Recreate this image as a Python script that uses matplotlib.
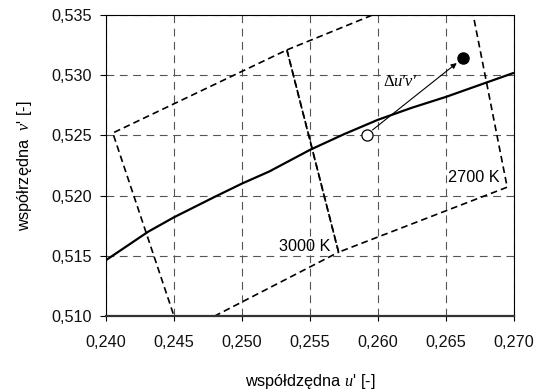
import matplotlib
matplotlib.use("Agg")
import matplotlib.pyplot as plt

plt.rcParams['font.family'] = ['Liberation Sans', 'DejaVu Sans']
plt.rcParams['mathtext.fontset'] = 'custom'
plt.rcParams['mathtext.it'] = 'Liberation Serif:italic'
plt.rcParams['mathtext.rm'] = 'Liberation Serif'

# Planckian locus (u', v')
locus_u = [0.2400, 0.2410, 0.2431, 0.2450, 0.2480, 0.2500, 0.2520, 0.2550, 0.2575, 0.2600, 0.2625, 0.2650, 0.2680, 0.2700]
locus_v = [0.51464, 0.5154, 0.5170, 0.5182, 0.5199, 0.5210, 0.5220, 0.5238, 0.5251, 0.5263, 0.5273, 0.5282, 0.5294, 0.5302]

# 3000 K quadrangle corners (closed)
q3000_u = [0.24544, 0.2405, 0.2533, 0.2571, 0.24544]
q3000_v = [0.50851, 0.5252, 0.5321, 0.5153, 0.50851]
# 2700 K quadrangle corners (closed)
q2700_u = [0.2533, 0.26645, 0.2695, 0.2571, 0.2533]
q2700_v = [0.5321, 0.53815, 0.5207, 0.5153, 0.5321]

# points
ref_point = (0.25916, 0.52506)
meas_point = (0.26627, 0.53144)

xticks = [0.240, 0.245, 0.250, 0.255, 0.260, 0.265, 0.270]
yticks = [0.510, 0.515, 0.520, 0.525, 0.530, 0.535]
xticklabels = ["0,240", "0,245", "0,250", "0,255", "0,260", "0,265", "0,270"]
yticklabels = ["0,510", "0,515", "0,520", "0,525", "0,530", "0,535"]

FS = 11.7

fig = plt.figure(figsize=(5.42, 3.91), dpi=100)
ax = fig.add_axes([106/542, 1-316/391, 408/542, 301/391])

ax.set_xlim(0.240, 0.270)
ax.set_ylim(0.510, 0.535)
ax.set_xticks(xticks)
ax.set_yticks(yticks)
ax.set_xticklabels(xticklabels, fontsize=FS, color='#111111')
ax.set_yticklabels(yticklabels, fontsize=FS, color='#111111')

ax.grid(True, color='#555555', linewidth=0.8, linestyle=(0, (7, 5)))
ax.set_axisbelow(True)

ax.tick_params(axis='y', direction='out', length=4.3, width=0.8, pad=6)
ax.tick_params(axis='x', direction='out', length=3.6, width=0.8, pad=10)

for s in ['left', 'top', 'right']:
    ax.spines[s].set_linewidth(0.8)
    ax.spines[s].set_color('black')
ax.spines['bottom'].set_linewidth(1.6)
ax.spines['bottom'].set_color('#333333')

ax.plot(q3000_u, q3000_v, color='black', lw=1.2, linestyle=(0, (4, 2.4)))
ax.plot(q2700_u, q2700_v, color='black', lw=1.2, linestyle=(0, (4, 2.4)))
ax.plot(locus_u, locus_v, color='black', lw=1.6, solid_capstyle='butt')

ax.annotate('', xy=meas_point, xytext=ref_point,
            arrowprops=dict(arrowstyle='-|>', lw=0.8, color='black',
                            shrinkA=5.5, shrinkB=6, mutation_scale=8))
ax.plot([ref_point[0]], [ref_point[1]], 'o', ms=8, mfc='white', mec='black', mew=0.9, zorder=5)
ax.plot([meas_point[0]], [meas_point[1]], 'o', ms=8, mfc='black', mec='black', zorder=5)

lx, ly = 0.26115, 0.52944
ax.text(lx, ly, "Δ", family='Liberation Serif', fontsize=12, ha='right', va='center')
ax.text(lx, ly, "u'v'", family='Liberation Serif', style='italic',
        fontsize=12, ha='left', va='center')
ax.text(0.26708, 0.52153, "2700 K", fontsize=FS, ha='center', va='center')
ax.text(0.25458, 0.51575, "3000 K", fontsize=FS, ha='center', va='center')

ax.set_xlabel("współdzędna $u$' [-]", fontsize=FS, labelpad=16)
ax.set_ylabel("współrzędna  $v$' [-]", fontsize=FS, labelpad=12)

fig.savefig("out.png", dpi=100)
